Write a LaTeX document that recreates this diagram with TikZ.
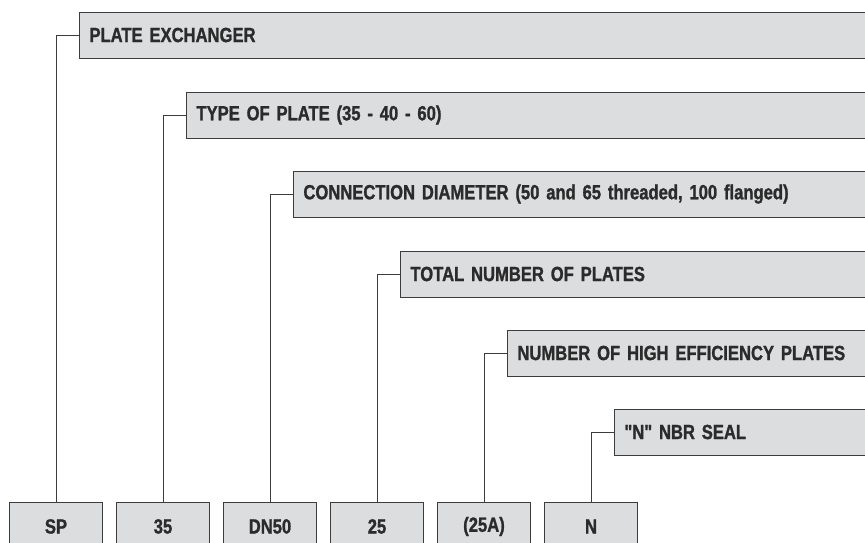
\documentclass[tikz,border=0pt]{standalone}
\usepackage{fontspec}
\newfontfamily\condfont{Liberation Sans Bold}[FakeStretch=0.81,FakeBold=1.2]
\usetikzlibrary{positioning}
\definecolor{boxgray}{HTML}{DCDDDF}
\definecolor{edgegray}{HTML}{3C3C3C}
\definecolor{inkgray}{HTML}{2B2B2B}

\begin{document}
\begin{tikzpicture}[
  x=1pt,y=-1pt,
  box/.style={draw=edgegray, fill=boxgray, line width=0.9pt, anchor=west, minimum height=46pt,
    text width=780pt, align=left, inner xsep=10pt, text=inkgray,
    font=\condfont\fontsize{20.5}{22}\selectfont},
  code/.style={draw=edgegray, fill=boxgray, line width=0.9pt, anchor=north, minimum width=93pt,
    minimum height=48pt, text=inkgray, font=\condfont\fontsize{20.5}{22}\selectfont},
  link/.style={draw=edgegray, line width=0.8pt}
]
\useasboundingbox (0,0) rectangle (865,542);
\clip (0,0) rectangle (865,542);
% meaning of each field
\node[box] (plate) at (79,35) {PLATE EXCHANGER};
\node[box] (type) at (186,115) {TYPE OF PLATE (35 - 40 - 60)};
\node[box] (conn) at (293,194) {CONNECTION DIAMETER (50 and 65 threaded, 100 flanged)};
\node[box] (total) at (400,274) {TOTAL NUMBER OF PLATES};
\node[box] (high) at (507,353) {NUMBER OF HIGH EFFICIENCY PLATES};
\node[box] (seal) at (614,432) {"N" NBR SEAL};
% code fields
\node[code] (sp) at (56,502) {SP};
\node[code] (n35) at (163,502) {35};
\node[code] (dn) at (270,502) {DN50};
\node[code] (n25) at (377,502) {25};
\node[code] (n25a) at (484,502) {(25A)};
\node[code] (nn) at (591,502) {N};
\draw[link] (sp.north) |- (plate.west);
\draw[link] (n35.north) |- (type.west);
\draw[link] (dn.north) |- (conn.west);
\draw[link] (n25.north) |- (total.west);
\draw[link] (n25a.north) |- (high.west);
\draw[link] (nn.north) |- (seal.west);
\end{tikzpicture}
\end{document}
